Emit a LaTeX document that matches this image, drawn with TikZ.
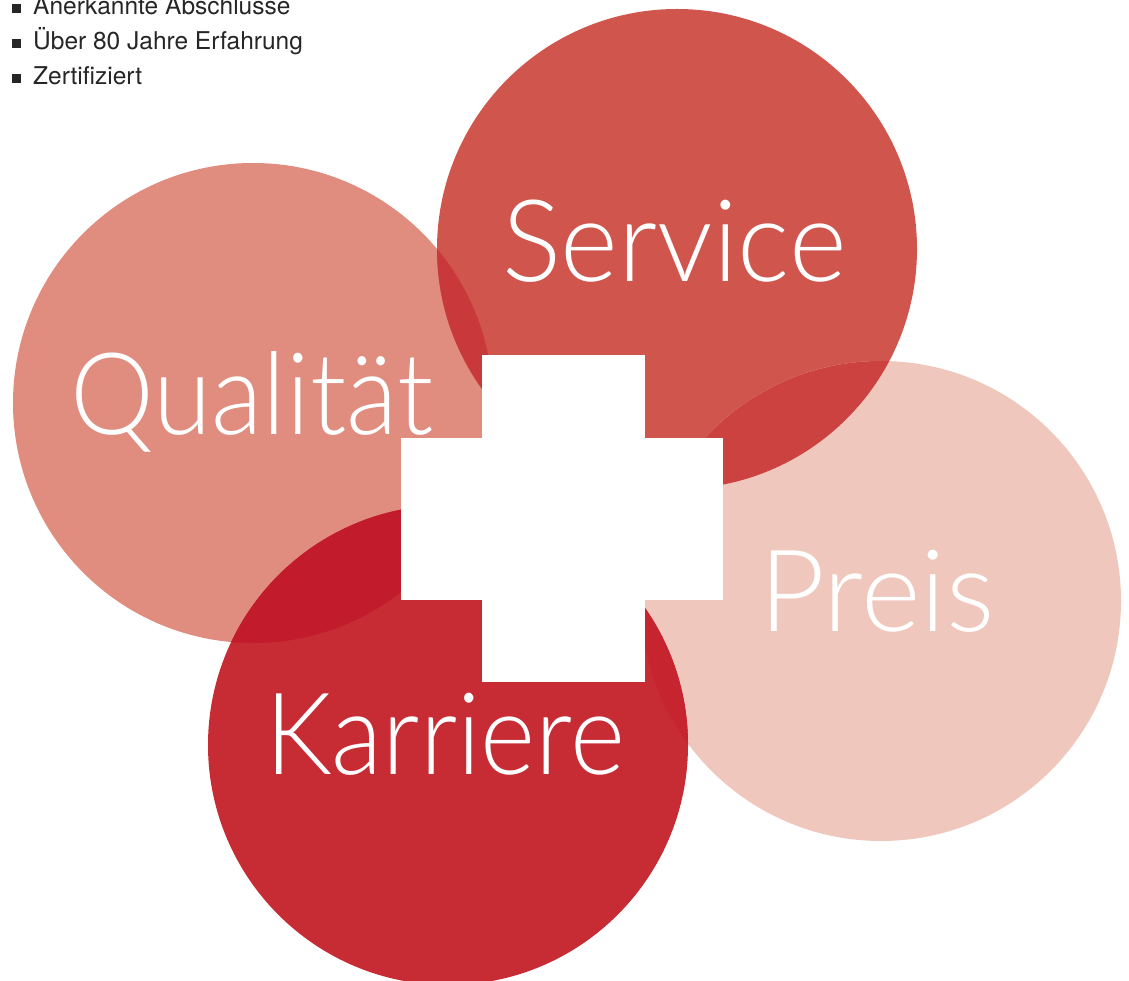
\documentclass[tikz,border=0pt]{standalone}
\usepackage{fontspec}
\setmainfont{TeX Gyre Heros}
\newfontfamily\lightfont{Lato}[UprightFont={* Light}]
\definecolor{cQ}{HTML}{E08C7E}
\definecolor{cS}{HTML}{D0554C}
\definecolor{cP}{HTML}{F0C7BC}
\definecolor{cK}{HTML}{C72B33}
\definecolor{cQS}{HTML}{C9383A}
\definecolor{cSP}{HTML}{CC4240}
\definecolor{cQK}{HTML}{C21B2B}
\definecolor{cKP}{HTML}{C6242F}
\tikzset{
  big/.style={font=\lightfont\fontsize{114}{114}\selectfont, text=white, inner sep=0pt, anchor=base west},
  item/.style={font=\fontsize{24.5}{28}\selectfont, text=black!85, inner sep=0pt, anchor=base west},
  sq/.style={fill=black!85, minimum size=9pt, inner sep=0pt, anchor=south west}
}
\begin{document}
\begin{tikzpicture}[x=1pt,y=-1pt]
\useasboundingbox (0,0) rectangle (1129,981);
\clip (0,0) rectangle (1129,981);
% circles
\fill[cQ] (253,403) circle[radius=240pt];
\fill[cS] (677,249) circle[radius=240pt];
\fill[cP] (881,601) circle[radius=240pt];
\fill[cK] (448,745) circle[radius=240pt];
% overlaps
\begin{scope}\clip (253,403) circle[radius=240pt]; \fill[cQS] (677,249) circle[radius=240pt];\end{scope}
\begin{scope}\clip (677,249) circle[radius=240pt]; \fill[cSP] (881,601) circle[radius=240pt];\end{scope}
\begin{scope}\clip (253,403) circle[radius=240pt]; \fill[cQK] (448,745) circle[radius=240pt];\end{scope}
\begin{scope}\clip (448,745) circle[radius=240pt]; \fill[cKP] (881,601) circle[radius=240pt];\end{scope}
% cross
\fill[white] (482,355) rectangle (645,682);
\fill[white] (401,438) rectangle (723,600);
% labels
\node[big] (service) at (502,282) {\scalebox{0.97}[1]{Service}};
\node[big] (qualitaet) at (70,434) {\scalebox{0.93}[1]{Qualität}};
\node[big] (preis) at (759,631) {\scalebox{1.0}[1]{Preis}};
\node[big] (karriere) at (265,774) {\scalebox{0.925}[1]{Karriere}};
% list
\node[sq] (b1) at (12,13) {};
\node[sq] (b2) at (12,48) {};
\node[sq] (b3) at (12,83) {};
\node[item] (t1) at (33,15) {Anerkannte Abschlüsse};
\node[item] (t2) at (33,50) {Über 80 Jahre Erfahrung};
\node[item] (t3) at (33,85) {Zertifiziert};
\end{tikzpicture}
\end{document}
